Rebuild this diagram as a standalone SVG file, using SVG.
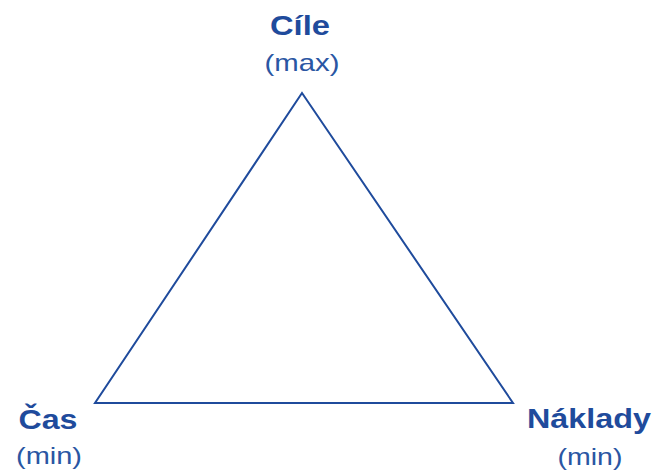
<svg xmlns="http://www.w3.org/2000/svg" width="657" height="474" viewBox="0 0 657 474">
<style>
.t{font-family:"Liberation Sans",Arial,sans-serif;fill:#1f4b9c;text-anchor:middle}
.b{font-weight:bold;font-size:28px}
.r{font-size:24px;fill:#2a56a3}
.edge{fill:none;stroke:#1f4b9c;stroke-width:2}
</style>
<rect width="657" height="474" fill="#fff"/>
<g id="connectors">
<path class="edge" d="M302 93 L513 403 L95 403 Z"/>
</g>
<g id="cile">
<text class="t b" x="300" y="35" textLength="60" lengthAdjust="spacingAndGlyphs">Cíle</text>
<text class="t r" x="302" y="71" textLength="75" lengthAdjust="spacingAndGlyphs">(max)</text>
</g>
<g id="cas">
<text class="t b" x="48" y="429" textLength="59" lengthAdjust="spacingAndGlyphs">Čas</text>
<text class="t r" x="49" y="464" textLength="66" lengthAdjust="spacingAndGlyphs">(min)</text>
</g>
<g id="naklady">
<text class="t b" x="589" y="428" textLength="124" lengthAdjust="spacingAndGlyphs">Náklady</text>
<text class="t r" x="590" y="465" textLength="65" lengthAdjust="spacingAndGlyphs">(min)</text>
</g>
</svg>
